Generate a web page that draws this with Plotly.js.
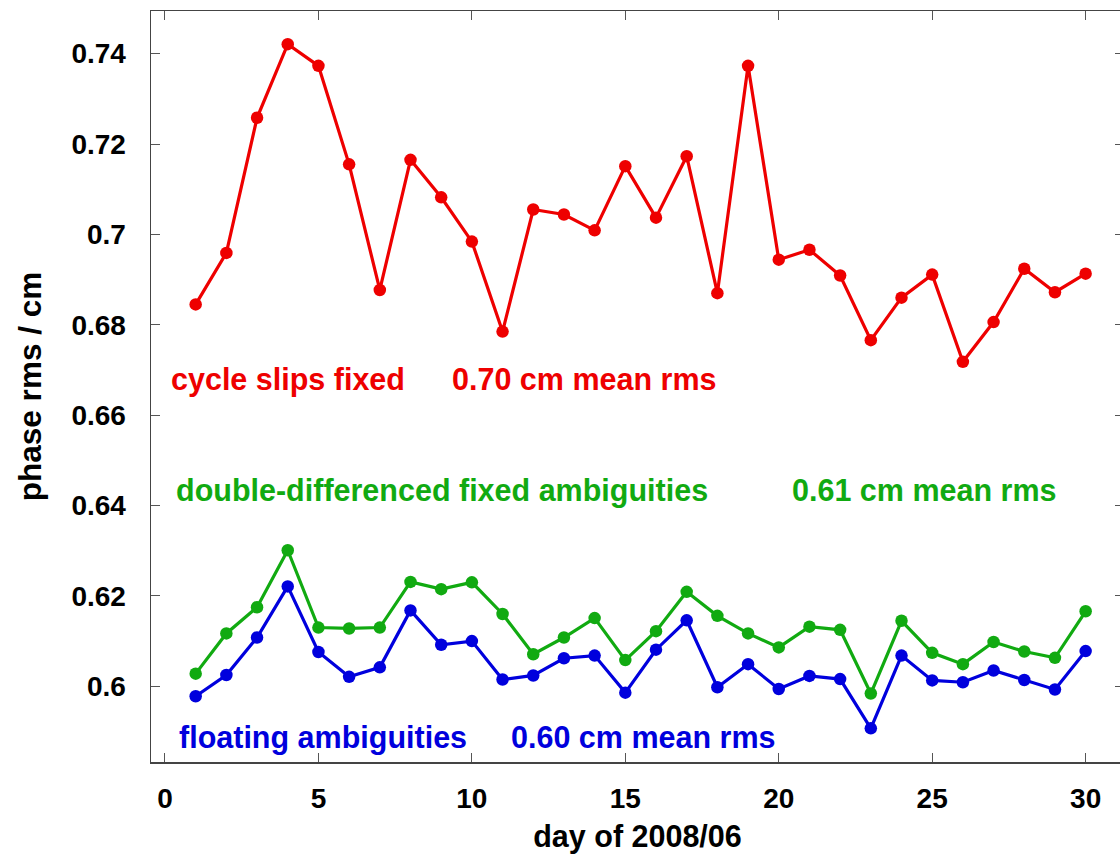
<!DOCTYPE html>
<html>
<head>
<meta charset="utf-8">
<script src="https://cdn.plot.ly/plotly-3.0.1.min.js"></script>
<style>
html,body{margin:0;padding:0;overflow:hidden;background:#fff;}
#chart{width:1130px;height:856px;}
</style>
</head>
<body>
<div id="chart"></div>
<script>
const days = [1,2,3,4,5,6,7,8,9,10,11,12,13,14,15,16,17,18,19,20,21,22,23,24,25,26,27,28,29,30];
const cycleSlipsFixed = [0.6845,0.6959,0.7258,0.7421,0.7373,0.7155,0.6877,0.7165,0.7082,0.6984,0.6785,0.7055,0.7044,0.7009,0.7151,0.7037,0.7173,0.6870,0.7373,0.6944,0.6966,0.6909,0.6766,0.6860,0.6911,0.6718,0.6806,0.6924,0.6872,0.6913];
const ddFixedAmbiguities = [0.6028,0.6117,0.6175,0.6301,0.6130,0.6128,0.6130,0.6231,0.6215,0.6230,0.6160,0.6071,0.6108,0.6151,0.6058,0.6122,0.6209,0.6156,0.6117,0.6086,0.6132,0.6125,0.5984,0.6145,0.6074,0.6049,0.6098,0.6077,0.6063,0.6166];
const floatingAmbiguities = [0.5978,0.6025,0.6108,0.6221,0.6076,0.6021,0.6042,0.6168,0.6092,0.6100,0.6015,0.6024,0.6062,0.6068,0.5986,0.6081,0.6146,0.5998,0.6049,0.5994,0.6023,0.6016,0.5907,0.6068,0.6013,0.6009,0.6035,0.6014,0.5993,0.6078];
const xTicks = [0,5,10,15,20,25,30];
const yTicks = [0.6,0.62,0.64,0.66,0.68,0.7,0.72,0.74];
const yTickLabels = ['0.6','0.62','0.64','0.66','0.68','0.7','0.72','0.74'];

const RED = '#ee0000', GREEN = '#11aa11', BLUE = '#0000dd';
const FONT = 'Liberation Sans, Arial, Helvetica, sans-serif';

function series(y, color){
  return {x: days, y: y, type:'scatter', mode:'lines+markers',
    line:{color:color, width:3.2}, marker:{color:color, size:12.5, symbol:'circle'},
    showlegend:false, hoverinfo:'skip'};
}

const traces = [series(cycleSlipsFixed, RED), series(ddFixedAmbiguities, GREEN), series(floatingAmbiguities, BLUE)];

function note(text, x, y, color){
  return {text:'<b>'+text+'</b>', x:x, y:y, xref:'x', yref:'y', xanchor:'left', yanchor:'middle',
    showarrow:false, font:{family:FONT, size:30.5, color:color}};
}

const layout = {
  width:1130, height:856,
  margin:{l:151, r:6, t:11, b:94},
  paper_bgcolor:'#fff', plot_bgcolor:'#fff',
  font:{family:FONT, color:'#000'},
  xaxis:{range:[-0.456,31.25], tickvals:xTicks, ticktext:xTicks.map(String),
    ticks:'inside', ticklen:9, tickwidth:1, tickcolor:'#555',
    showline:true, linecolor:'#444', linewidth:1.5, mirror:'ticks',
    showgrid:false, zeroline:false, ticklabelstandoff:11,
    tickfont:{family:FONT, size:28, color:'#000', weight:'bold'},
    title:{text:'<b>day of 2008/06</b>', font:{family:FONT, size:30.5, color:'#000'}, standoff:12}},
  yaxis:{range:[0.58325,0.74943], tickvals:yTicks, ticktext:yTickLabels,
    ticks:'inside', ticklen:9, tickwidth:1, tickcolor:'#555',
    showline:true, linecolor:'#444', linewidth:1.5, mirror:'ticks',
    showgrid:false, zeroline:false, ticklabelstandoff:18,
    tickfont:{family:FONT, size:28, color:'#000', weight:'bold'},
    title:{text:'<b>phase rms / cm</b>', font:{family:FONT, size:31.5, color:'#000'}, standoff:20}},
  annotations:[
    note('cycle slips fixed', 0.13, 0.6679, RED),
    note('0.70 cm mean rms', 9.29, 0.6679, RED),
    note('double-differenced fixed ambiguities', 0.29, 0.6434, GREEN),
    note('0.61 cm mean rms', 20.38, 0.6434, GREEN),
    note('floating ambiguities', 0.39, 0.5887, BLUE),
    note('0.60 cm mean rms', 11.21, 0.5887, BLUE)
  ]
};

Plotly.newPlot('chart', traces, layout, {displayModeBar:false, staticPlot:true});
</script>
</body>
</html>
